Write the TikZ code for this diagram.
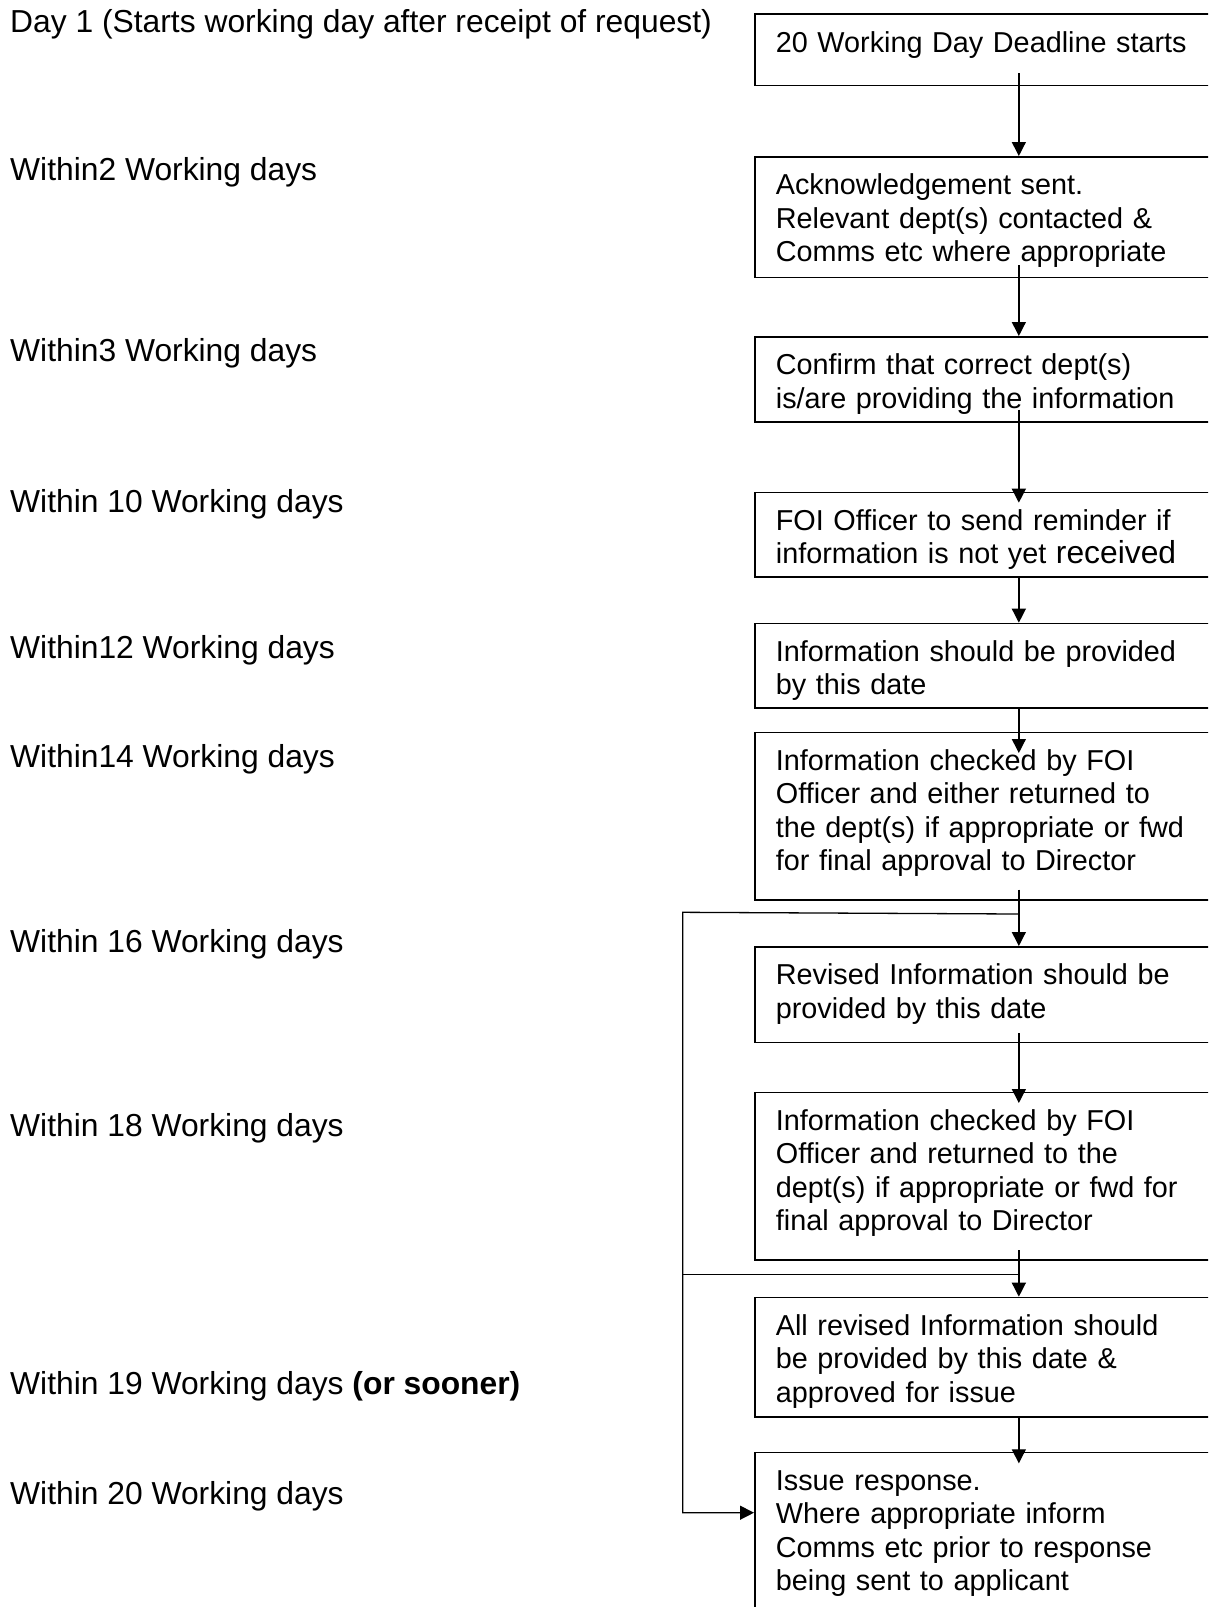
\documentclass[tikz,border=0pt]{standalone}
\usepackage{fontspec}
\setmainfont{Liberation Sans}
\usetikzlibrary{arrows.meta,positioning}

\begin{document}
\begin{tikzpicture}[x=1pt, y=-1pt,
  when/.style={anchor=base west, inner sep=0pt, font=\fontsize{31.8pt}{36pt}\selectfont},
  stage/.style={rectangle, draw, line width=1.7pt, anchor=north west, align=left, text width=486pt, inner xsep=21pt, inner ysep=0pt, text height=38pt, text depth=#1, font=\fontsize{28.8pt}{33.4pt}\selectfont},
  arr/.style={-{Triangle[length=14pt, width=14pt]}, line width=1.3pt},
  ln/.style={line width=1.3pt}
]
  \useasboundingbox (0,0) rectangle (1208,1607);
  \clip (0,0) rectangle (1208,1607);

  \node[when] (l1)  at (10,32.7)   {Day 1 (Starts working day after receipt of request)};
  \node[when] (l2)  at (10,180)    {Within2 Working days};
  \node[when] (l3)  at (10,361.7)  {Within3 Working days};
  \node[when] (l4)  at (10,512.5)  {Within 10 Working days};
  \node[when] (l5)  at (10,658.6)  {Within12 Working days};
  \node[when] (l6)  at (10,767.9)  {Within14 Working days};
  \node[when] (l7)  at (10,952.5)  {Within 16 Working days};
  \node[when] (l8)  at (10,1136.3) {Within 18 Working days};
  \node[when] (l9)  at (10,1394.9) {Within 19 Working days \textbf{(or sooner)}};
  \node[when] (l10) at (10,1504)   {Within 20 Working days};

  \node[stage=33.4pt]  (b1)  at (754,13.3)   {20 Working Day Deadline starts};
  \node[stage=82.7pt]  (b2)  at (754,156)    {Acknowledgement sent.\\Relevant dept(s) contacted \&\\Comms etc where appropriate};
  \node[stage=47pt]    (b3)  at (754,336)    {Confirm that correct dept(s)\\is/are providing the information};
  \node[stage=46.3pt]  (b4)  at (754,491.7)  {FOI Officer to send reminder if\\information is not yet {\fontsize{31.8pt}{33.4pt}\selectfont received}};
  \node[stage=46.6pt]  (b5)  at (754,622.7)  {Information should be provided\\by this date};
  \node[stage=129.3pt] (b6)  at (754,731.7)  {Information checked by FOI\\Officer and either returned to\\the dept(s) if appropriate or fwd\\for final approval to Director};
  \node[stage=57.7pt]  (b7)  at (754,946)    {Revised Information should be\\provided by this date};
  \node[stage=129.6pt] (b8)  at (754,1091.7) {Information checked by FOI\\Officer and returned to the\\dept(s) if appropriate or fwd for\\final approval to Director};
  \node[stage=81.3pt]  (b9)  at (754,1296.7) {All revised Information should\\be provided by this date \&\\approved for issue};
  \node[stage=200pt]   (b10) at (754,1451.7) {Issue response.\\Where appropriate inform\\Comms etc prior to response\\being sent to applicant};

  \coordinate (j1) at ([yshift=-13.3pt]b6.south);
  \coordinate (j2) at ([yshift=-13.4pt]b8.south);
  \coordinate (lp) at (682.7,912.3);

  \draw[arr, shorten <=-13pt] (b1.south) -- (b2.north);
  \draw[arr, shorten <=-13.4pt] (b2.south) -- (b3.north);
  \draw[arr, shorten <=-13pt, shorten >=-11pt] (b3.south) -- (b4.north);
  \draw[arr] (b4.south) -- (b5.north);
  \draw[arr, shorten >=-21.3pt] (b5.south) -- (b6.north);
  \draw[arr, shorten <=-11pt] (b6.south) -- (b7.north);
  \draw[arr, shorten <=-10pt, shorten >=-11.3pt] (b7.south) -- (b8.north);
  \draw[arr, shorten <=-11pt] (b8.south) -- (b9.north);
  \draw[arr, shorten >=-11.6pt] (b9.south) -- (b10.north);

  \draw[arr] (j1) -- (lp) |- ([yshift=-61pt]b10.north west);
  \draw[ln] (j2) -- (j2 -| lp);
\end{tikzpicture}
\end{document}
